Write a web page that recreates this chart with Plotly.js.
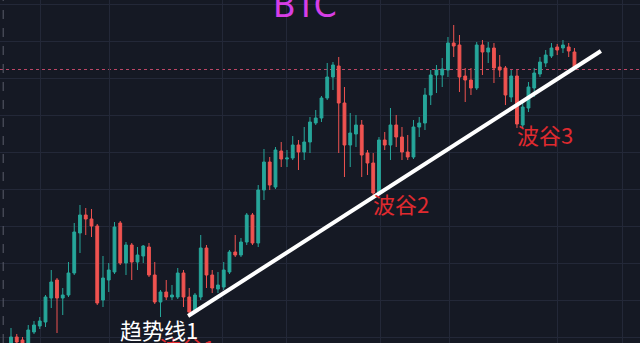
<!DOCTYPE html>
<html>
<head>
<meta charset="utf-8">
<script src="https://cdn.plot.ly/plotly-3.0.1.min.js"></script>
<style>
  html, body { margin: 0; padding: 0; background: #151924; overflow: hidden; }
  #chart { width: 640px; height: 343px; }
</style>
</head>
<body>
<div id="chart"></div>
<script>
// Daily BTC candles (price units of the chart scale)
const open = [0, 6, 3, 0, 11, 17, 21, 45, 63, 45,
  48, 70, 110, 128, 124, 117, 43, 63, 71, 120,
  80, 98, 81, 87, 96, 68, 41, 51, 46, 46,
  70, 46, 33, 46, 95, 68, 54, 56, 71, 91,
  88, 101, 128, 100, 153, 181, 156, 192, 184, 185,
  198, 191, 201, 220, 225, 245, 266, 277, 240, 198,
  209, 218, 190, 180, 150, 203, 198, 218, 206, 191,
  186, 216, 220, 248, 268, 268, 273, 300, 298, 267,
  263, 255, 298, 291, 295, 276, 275, 246, 267, 218,
  235, 255, 269, 280, 287, 296, 295, 296, 291];
const high = [15, 9, 6, 18, 22, 26, 48, 73, 65, 55,
  81, 120, 138, 135, 134, 119, 87, 80, 121, 122,
  101, 100, 96, 98, 100, 81, 53, 63, 58, 75,
  73, 55, 50, 108, 98, 73, 71, 81, 93, 108,
  105, 130, 130, 158, 194, 186, 196, 201, 193, 207,
  203, 216, 226, 233, 247, 280, 281, 286, 256, 230,
  228, 223, 193, 190, 206, 211, 235, 228, 216, 208,
  223, 226, 255, 273, 278, 285, 306, 318, 308, 275,
  275, 301, 303, 301, 300, 288, 277, 273, 273, 243,
  261, 275, 286, 293, 300, 299, 303, 300, 295];
const low = [-3, -2, -4, -3, 9, 14, 16, 35, 10, 28,
  46, 68, 90, 108, 106, 38, 36, 51, 69, 78,
  68, 63, 73, 80, 66, 39, 26, 43, 43, 44,
  36, 26, 30, 43, 55, 50, 50, 53, 69, 86,
  86, 98, 98, 96, 143, 153, 154, 176, 176, 183,
  173, 183, 190, 218, 221, 243, 253, 190, 166, 176,
  196, 166, 168, 146, 148, 193, 183, 196, 183, 183,
  184, 206, 213, 238, 250, 256, 266, 286, 251, 241,
  248, 253, 268, 280, 260, 266, 238, 241, 215, 215,
  231, 246, 266, 276, 285, 288, 290, 286, 273];
const close = [6, 1, -1, 13, 18, 22, 46, 61, 45, 48,
  70, 111, 128, 124, 117, 40, 65, 73, 116, 80,
  98, 81, 88, 97, 68, 41, 51, 46, 48, 70,
  46, 31, 48, 95, 68, 55, 58, 73, 91, 88,
  101, 128, 100, 153, 181, 158, 193, 184, 185, 198,
  191, 201, 221, 225, 245, 266, 278, 240, 198, 210,
  218, 188, 180, 150, 203, 198, 218, 206, 191, 186,
  216, 220, 248, 268, 273, 274, 300, 297, 266, 263,
  255, 298, 291, 295, 275, 273, 248, 267, 219, 236,
  256, 270, 281, 288, 295, 293, 298, 292, 276];
const dayIndex = open.map((_, i) => i);

// Reference level and rising trend line through the swing lows
const refLevel = 273.5;
const trendIdx = [30.8, 102.6];
const trendPrice = [27, 292];

// Vertical grid positions (time separators)
const timeGrid = [5.2, 17.2, 36.7, 48.0, 64.2, 76.3, 95.0, 106.3];

const title = 'BTC';
const labels = [
  { text: '波谷1', x: 30.6, y: 0, color: '#e02a2f', anchor: 'top', shift: 14 },
  { text: '趋势线1', x: 25.7, y: 14, color: '#ffffff', anchor: 'middle', shift: 0 },
  { text: '波谷2', x: 67.8, y: 140, color: '#e02a2f', anchor: 'middle', shift: 0 },
  { text: '波谷3', x: 92.9, y: 209, color: '#e02a2f', anchor: 'middle', shift: 0 }
];

const bg = '#151924';
const grid = '#232838';

const traces = [
  {
    type: 'candlestick',
    x: dayIndex, open: open, high: high, low: low, close: close,
    increasing: { line: { color: '#26a69a', width: 1 }, fillcolor: '#26a69a' },
    decreasing: { line: { color: '#ef5350', width: 1 }, fillcolor: '#ef5350' },
    whiskerwidth: 0,
    hoverinfo: 'skip'
  },
  {
    type: 'scatter', mode: 'lines',
    x: trendIdx, y: trendPrice,
    line: { color: '#ffffff', width: 4 },
    hoverinfo: 'skip'
  }
];

const annotations = labels.map(l => ({
  text: l.text, x: l.x, y: l.y, xref: 'x', yref: 'y',
  showarrow: false, xanchor: 'center', yanchor: l.anchor, yshift: l.shift,
  font: { family: 'Noto Sans CJK SC, Noto Sans, sans-serif', size: 22, color: l.color }
}));
annotations.push({
  text: title, xref: 'paper', yref: 'paper', x: 0.477, y: 0.984,
  xanchor: 'center', yanchor: 'middle', showarrow: false,
  font: { family: 'DejaVu Sans, sans-serif', size: 33, color: '#d63ee6' }
});

const layout = {
  width: 640, height: 343,
  margin: { l: 0, r: 0, t: 0, b: 0 },
  paper_bgcolor: bg, plot_bgcolor: bg,
  showlegend: false,
  hovermode: false,
  xaxis: {
    range: [-1.913, 109.4],
    tickmode: 'array', tickvals: timeGrid,
    showticklabels: false, ticks: '',
    showgrid: true, gridcolor: grid, gridwidth: 1,
    zeroline: false, showline: false,
    rangeslider: { visible: false }
  },
  yaxis: {
    range: [0, 343],
    tick0: 6, dtick: 37,
    showticklabels: false, ticks: '',
    showgrid: true, gridcolor: grid, gridwidth: 1,
    zeroline: false, showline: false
  },
  shapes: [
    {
      type: 'line', xref: 'paper', yref: 'y',
      x0: 0, x1: 1, y0: refLevel, y1: refLevel,
      line: { color: 'rgba(205,75,110,0.9)', width: 1, dash: 'dot' },
      layer: 'below'
    },
    {
      type: 'line', xref: 'paper', yref: 'paper',
      x0: 0.005, x1: 0.005, y0: 0, y1: 1,
      line: { color: '#5a5e6b', width: 1, dash: 'dash' }
    }
  ],
  annotations: annotations
};

Plotly.newPlot('chart', traces, layout, { staticPlot: true, displayModeBar: false });
</script>
</body>
</html>
